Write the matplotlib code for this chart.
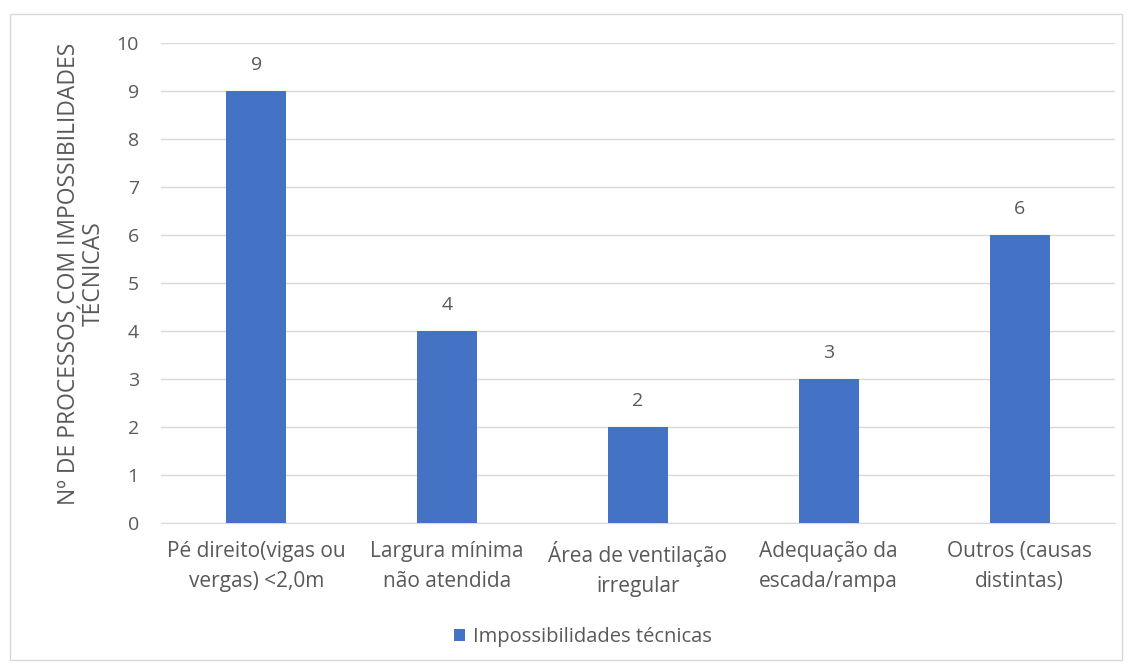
import matplotlib
matplotlib.use("Agg")
import matplotlib.pyplot as plt
from matplotlib.patches import Rectangle

categories = ["Pé direito(vigas ou\nvergas) <2,0m", "Largura mínima\nnão atendida",
              "Área de ventilação\nirregular", "Adequação da\nescada/rampa",
              "Outros (causas\ndistintas)"]
values = [9, 4, 2, 3, 6]
series_name = "Impossibilidades técnicas"
ylabel = "Nº DE PROCESSOS COM IMPOSSIBILIDADES\nTÉCNICAS"
yticks = list(range(0, 11))

plt.rcParams['font.family'] = ['Open Sans', 'DejaVu Sans']
gray = "#595959"
bar_color = "#4472C4"

fig = plt.figure(figsize=(11.30, 6.66), dpi=100)
fig.patches.append(Rectangle((10/1130, 6/666), 1112/1130, 646/666, transform=fig.transFigure,
                             fill=False, edgecolor="#D9D9D9", linewidth=1))
ax = fig.add_axes([161/1130, 1-523/666, (1115-161)/1130, (523-43)/666])
x = list(range(len(values)))
bars = ax.bar(x, values, width=0.315, color=bar_color, zorder=3, label=series_name)
ax.set_xlim(-0.5, len(values)-0.5)
ax.set_ylim(0, 10)
ax.set_yticks(yticks)
ax.grid(axis='y', color="#D9D9D9", linewidth=1, zorder=0)
for s in ['top', 'right', 'left']:
    ax.spines[s].set_visible(False)
ax.spines['bottom'].set_color("#D9D9D9")
ax.tick_params(axis='both', length=0, colors=gray, labelsize=14)
ax.tick_params(axis='y', pad=16)
ax.tick_params(axis='x', pad=13, labelsize=15)
ax.set_xticks(x)
ax.set_xticklabels(categories, linespacing=1.55)
for xi, v in zip(x, values):
    ax.annotate(str(v), (xi, v), xytext=(0, 12), textcoords='offset points',
                ha='center', va='bottom', color=gray, fontsize=14)
ax.set_ylabel(ylabel, color=gray, fontsize=16.5, linespacing=1.05)
ax.yaxis.set_label_coords(-0.058, 0.52)
leg = fig.legend(handles=[bars], labels=[series_name], loc='center', bbox_to_anchor=(583/1130, 1-637/666),
                 frameon=False, fontsize=14.5, handlelength=0.55, handleheight=0.55, handletextpad=0.4)
for t in leg.get_texts():
    t.set_color(gray)
fig.savefig("out.png", dpi=100)
